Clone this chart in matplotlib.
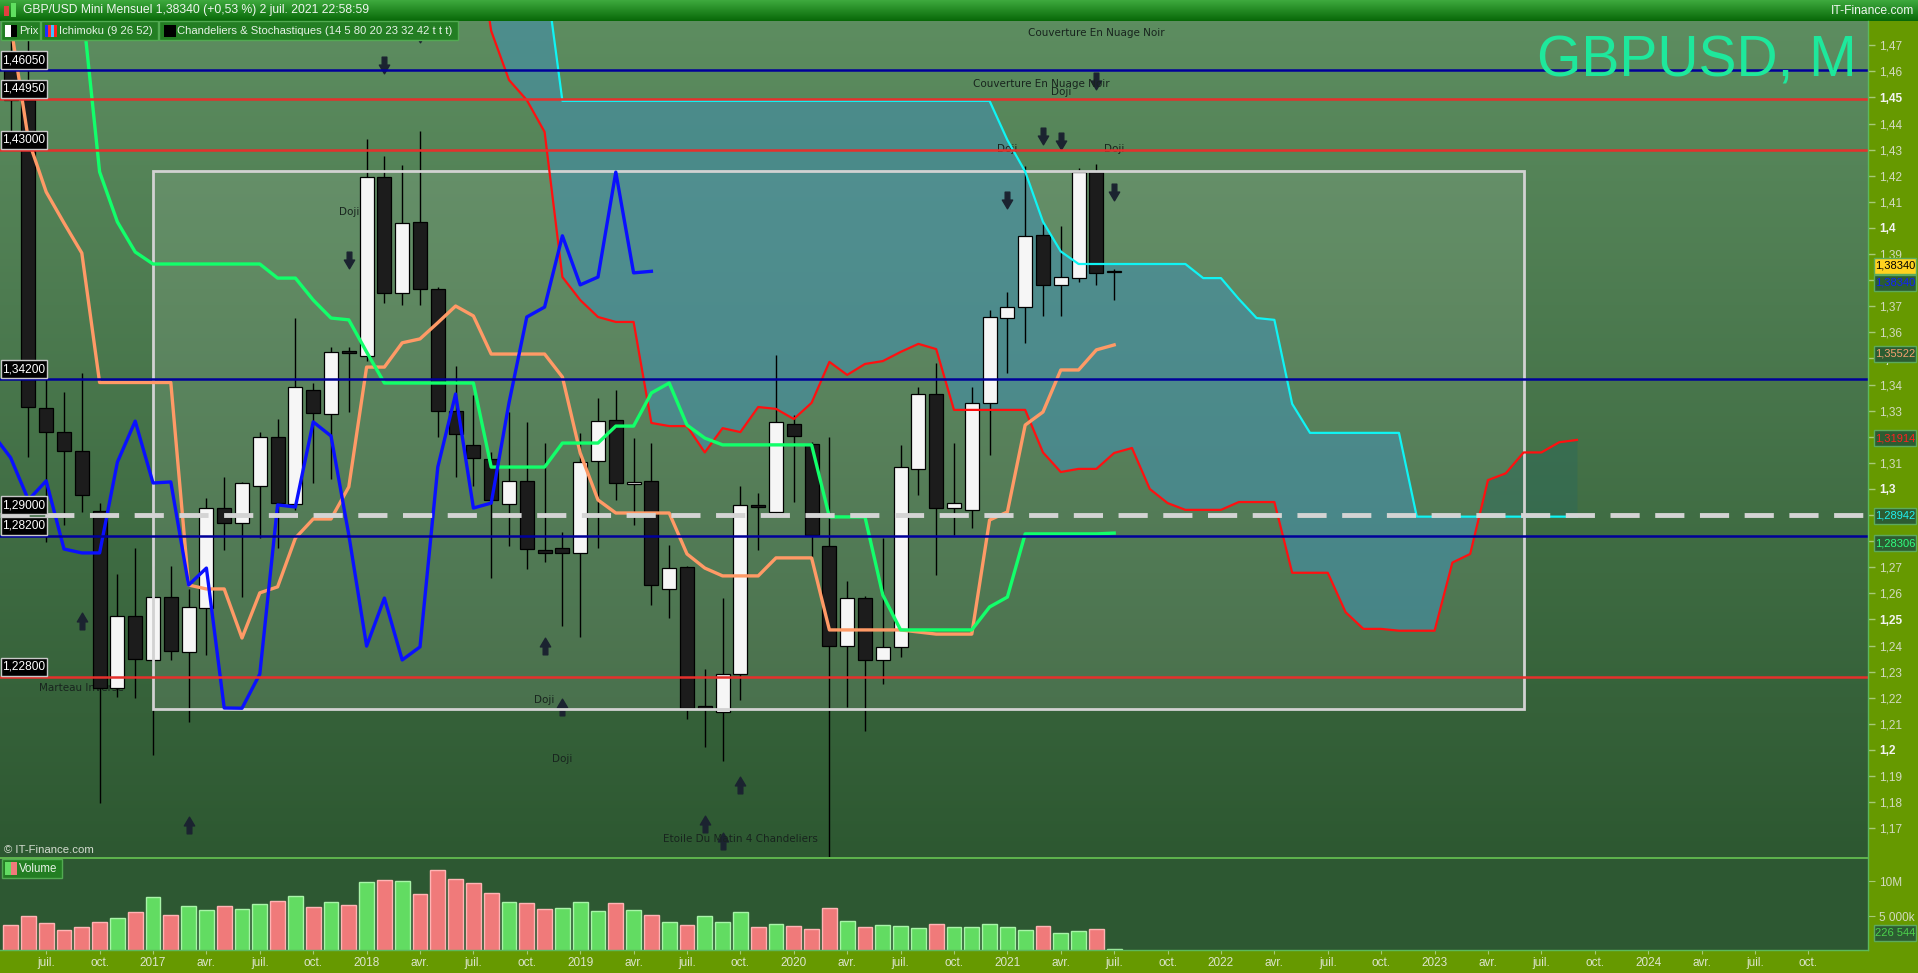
import numpy as np
import matplotlib.pyplot as plt
from matplotlib.patches import Rectangle
from matplotlib.path import Path
from matplotlib.lines import Line2D

plt.rcParams['font.family'] = ['Liberation Sans', 'DejaVu Sans']

# monthly candles, index 0 = mai 2016 ... 62 = juil. 2021
opens = [1.4620, 1.4490, 1.3310, 1.3218, 1.3146, 1.2917, 1.2238, 1.2513, 1.2345, 1.2586,
         1.2375, 1.2544, 1.2927, 1.2870, 1.3011, 1.3199, 1.2943, 1.3380, 1.3287, 1.3528,
         1.3510, 1.4196, 1.3750, 1.4023, 1.3766, 1.3300, 1.3170, 1.3115, 1.2943, 1.3031,
         1.2766, 1.2774, 1.2755, 1.3107, 1.3264, 1.3020, 1.3031, 1.2617, 1.2700, 1.2163,
         1.2146, 1.2291, 1.2939, 1.2912, 1.3250, 1.3172, 1.2782, 1.2398, 1.2582, 1.2345,
         1.2395, 1.3077, 1.3364, 1.2927, 1.2920, 1.3330, 1.3655, 1.3697, 1.3973, 1.3782,
         1.3808, 1.4214, 1.3830]
highs = [1.4770, 1.5018, 1.3482, 1.3372, 1.3444, 1.2946, 1.2674, 1.2774, 1.2706, 1.2705,
         1.2617, 1.2965, 1.3046, 1.3027, 1.3218, 1.3268, 1.3655, 1.3406, 1.3545, 1.3545,
         1.4340, 1.4276, 1.4241, 1.4370, 1.3775, 1.3471, 1.3360, 1.3142, 1.3295, 1.3257,
         1.3176, 1.2835, 1.3215, 1.3349, 1.3379, 1.3195, 1.3176, 1.2785, 1.2705, 1.2310,
         1.2582, 1.3012, 1.2985, 1.3513, 1.3284, 1.3180, 1.3200, 1.2648, 1.2590, 1.2812,
         1.3169, 1.3390, 1.3483, 1.3176, 1.3390, 1.3686, 1.3755, 1.4238, 1.4015, 1.4008,
         1.4230, 1.4245, 1.3843]
lows = [1.4368, 1.3122, 1.2797, 1.2862, 1.2912, 1.1797, 1.2203, 1.2199, 1.1980, 1.2345,
        1.2107, 1.2364, 1.2766, 1.2586, 1.2812, 1.2774, 1.2920, 1.3023, 1.3040, 1.3295,
        1.3490, 1.3712, 1.3705, 1.3705, 1.3199, 1.3046, 1.3010, 1.2660, 1.2782, 1.2693,
        1.2720, 1.2475, 1.2433, 1.2774, 1.2958, 1.2862, 1.2556, 1.2506, 1.2119, 1.2011,
        1.1958, 1.2192, 1.2766, 1.2893, 1.2950, 1.2740, 1.1409, 1.2165, 1.2073, 1.2253,
        1.2356, 1.2977, 1.2670, 1.2824, 1.2850, 1.3130, 1.3444, 1.3560, 1.3663, 1.3663,
        1.3793, 1.3782, 1.3724]
closes = [1.4490, 1.3314, 1.3219, 1.3146, 1.2977, 1.2238, 1.2513, 1.2349, 1.2586, 1.2379,
          1.2548, 1.2927, 1.2870, 1.3023, 1.3199, 1.2946, 1.3390, 1.3290, 1.3525, 1.3520,
          1.4196, 1.3750, 1.4020, 1.3766, 1.3300, 1.3210, 1.3120, 1.2958, 1.3031, 1.2770,
          1.2755, 1.2755, 1.3103, 1.3260, 1.3023, 1.3027, 1.2632, 1.2697, 1.2161, 1.2160,
          1.2291, 1.2939, 1.2931, 1.3257, 1.3203, 1.2824, 1.2398, 1.2582, 1.2345, 1.2395,
          1.3084, 1.3364, 1.2927, 1.2946, 1.3330, 1.3659, 1.3697, 1.3970, 1.3782, 1.3812,
          1.4214, 1.3828, 1.3834]

# volume (millions) and bar colour ('g' up / 'r' down)
volume_m = [3.71, 5.0, 4.0, 3.0, 3.43, 4.14, 4.71, 5.57, 7.71, 5.14,
            6.43, 5.86, 6.43, 6.0, 6.71, 7.14, 7.86, 6.29, 7.0, 6.57,
            9.86, 10.14, 10.0, 8.14, 11.57, 10.29, 9.71, 8.29, 7.0, 6.86,
            6.0, 6.14, 7.0, 5.71, 6.86, 5.86, 5.14, 4.14, 3.71, 5.0,
            4.14, 5.57, 3.43, 3.86, 3.57, 3.14, 6.14, 4.29, 3.43, 3.71,
            3.57, 3.29, 3.86, 3.43, 3.43, 3.86, 3.43, 3.0, 3.57, 2.57,
            2.86, 3.14, 0.226544]
volume_dir = list('rrrrrrgrgrggrggrgrgrgrgrrrrrgrrgggrgrgrgggrgrrrgrgggrgggggrggrg')

# Ichimoku (9 26 52)
tenkan = [1.4780, 1.4337, 1.4138, 1.4019, 1.3904, 1.3408, 1.3408, 1.3408, 1.3408, 1.3408,
          1.2632, 1.2617, 1.2617, 1.2429, 1.2602, 1.2625, 1.2812, 1.2885, 1.2885, 1.3008,
          1.3467, 1.3467, 1.3560, 1.3575, 1.3637, 1.3701, 1.3663, 1.3517, 1.3517, 1.3517,
          1.3517, 1.3429, 1.3138, 1.2958, 1.2908, 1.2908, 1.2908, 1.2908, 1.2751, 1.2697,
          1.2667, 1.2667, 1.2667, 1.2736, 1.2736, 1.2736, 1.2460, 1.2460, 1.2460, 1.2460,
          1.2460, 1.2452, 1.2444, 1.2444, 1.2444, 1.2881, 1.2912, 1.3245, 1.3295, 1.3456,
          1.3456, 1.3533, 1.3552]
kijun = [1.5300, 1.5300, 1.5300, 1.5300, 1.4870, 1.4215, 1.4023, 1.3908, 1.3862, 1.3862,
         1.3862, 1.3862, 1.3862, 1.3862, 1.3862, 1.3808, 1.3808, 1.3724, 1.3655, 1.3648,
         1.3525, 1.3406, 1.3406, 1.3406, 1.3406, 1.3406, 1.3406, 1.3084, 1.3084, 1.3084,
         1.3084, 1.3176, 1.3176, 1.3176, 1.3241, 1.3241, 1.3368, 1.3406, 1.3245, 1.3195,
         1.3169, 1.3169, 1.3169, 1.3169, 1.3169, 1.3169, 1.2893, 1.2893, 1.2893, 1.2594,
         1.2460, 1.2460, 1.2460, 1.2460, 1.2460, 1.2548, 1.2586, 1.2828, 1.2828, 1.2828,
         1.2828, 1.2828, 1.2831]
CHIKOU_SHIFT = 26
# senkou spans, index 26 ... 88 (projected 26 months ahead)
senkou_start = 26
senkou_a = [1.5500, 1.5500, 1.5500, 1.5500, 1.5000, 1.4487, 1.4487, 1.4487, 1.4487, 1.4487,
            1.4487, 1.4487, 1.4487, 1.4487, 1.4487, 1.4487, 1.4487, 1.4487, 1.4487, 1.4487,
            1.4487, 1.4487, 1.4487, 1.4487, 1.4487, 1.4487, 1.4487, 1.4487, 1.4487, 1.4487,
            1.4337, 1.4216, 1.4024, 1.3910, 1.3862, 1.3862, 1.3862, 1.3862, 1.3862, 1.3862,
            1.3862, 1.3808, 1.3808, 1.3728, 1.3655, 1.3648, 1.3326, 1.3215, 1.3215, 1.3215,
            1.3215, 1.3215, 1.3215, 1.2894, 1.2894, 1.2894, 1.2894, 1.2894, 1.2894, 1.2894,
            1.2894, 1.2894, 1.2894]
senkou_b = [1.5200, 1.4755, 1.4567, 1.4490, 1.4368, 1.3812, 1.3724, 1.3659, 1.3640, 1.3640,
            1.3253, 1.3241, 1.3241, 1.3140, 1.3233, 1.3218, 1.3314, 1.3307, 1.3268, 1.3330,
            1.3487, 1.3437, 1.3479, 1.3490, 1.3525, 1.3556, 1.3536, 1.3303, 1.3303, 1.3303,
            1.3303, 1.3303, 1.3140, 1.3065, 1.3077, 1.3077, 1.3138, 1.3157, 1.3000, 1.2946,
            1.2920, 1.2920, 1.2920, 1.2950, 1.2950, 1.2950, 1.2679, 1.2679, 1.2679, 1.2528,
            1.2464, 1.2464, 1.2457, 1.2457, 1.2457, 1.2718, 1.2751, 1.3034, 1.3060, 1.3140,
            1.3140, 1.3179, 1.3188]

# horizontal levels
levels = [1.4605, 1.4495, 1.4300, 1.3420, 1.2900, 1.2820, 1.2280]
level_labels = ['1,46050', '1,44950', '1,43000', '1,34200', '1,29000', '1,28200', '1,22800']
level_kind = ['blue', 'red', 'red', 'blue', 'dash', 'blue', 'red']

# zone rectangle (months, prices)
zone_months = (8, 85)
zone_prices = (1.2157, 1.4220)

# candle pattern marks
down_arrow_m = [19, 21, 23, 56, 58, 59, 61, 62]
down_arrow_p = [1.3877, 1.4623, 1.4745, 1.4107, 1.4354, 1.4335, 1.4565, 1.4136]
up_arrow_m = [4, 10, 30, 31, 39, 40, 41]
up_arrow_p = [1.2496, 1.1711, 1.2400, 1.2163, 1.1715, 1.1650, 1.1864]
pattern_text = ['Couverture En Nuage Noir', 'Couverture En Nuage Noir', 'Doji', 'Doji', 'Doji',
                'Doji', 'Marteau Inversé', 'Doji', 'Doji', 'Etoile Du Matin 4 Chandeliers']
pattern_m = [61.0, 57.9, 59.0, 56.0, 62.0, 19.0, 4.0, 30.0, 31.0, 41.0]
pattern_p = [1.4748, 1.4553, 1.4522, 1.4304, 1.4304, 1.4061, 1.2238, 1.2192, 1.1966, 1.1660]

# value tags on the price scale
tag_values = [1.38340, 1.38340, 1.35522, 1.31914, 1.28942, 1.28306]
tag_texts = ['1,38340', '1,38340', '1,35522', '1,31914', '1,28942', '1,28306']
# price-scale labels hidden behind those tags
hidden_ticks = [1.38, 1.32, 1.29, 1.28]

month_short = {1: None, 4: 'avr.', 7: 'juil.', 10: 'oct.'}

# ---------------------------------------------------------------------
W, H = 1918, 973
fig = plt.figure(figsize=(W / 100, H / 100), dpi=100, facecolor='#669900')


def fy(py):
    return 1 - py / H


ax = fig.add_axes([0, fy(857), 1868 / W, (857 - 21) / H])
axv = fig.add_axes([0, fy(950), 1868 / W, (950 - 859) / H])

x_lim = (-0.596, 104.35)
y_lim = (1.1590, 1.4793)

# background gradient
top_c = np.array([93, 141, 96]) / 255
bot_c = np.array([45, 88, 49]) / 255
t = np.linspace(0, 1, 256)[:, None, None]
grad = top_c * (1 - t) + bot_c * t
ax.imshow(grad, extent=[0, 1, 0, 1], transform=ax.transAxes, aspect='auto', zorder=0)
axv.set_facecolor('#2d5832')

months = np.arange(len(closes))
o = np.array(opens); c = np.array(closes)
h = np.array(highs); l = np.array(lows)

# zone rectangle
ax.add_patch(Rectangle((zone_months[0], zone_prices[0]), zone_months[1] - zone_months[0],
                       zone_prices[1] - zone_prices[0], fc='white', alpha=0.1, ec='none', zorder=1))
ax.add_patch(Rectangle((zone_months[0], zone_prices[0]), zone_months[1] - zone_months[0],
                       zone_prices[1] - zone_prices[0], fc='none', ec='#d2d2d2', lw=2, zorder=5))

# kumo
sx = np.arange(senkou_start, senkou_start + len(senkou_a))
sa = np.array(senkou_a); sb = np.array(senkou_b)
ax.fill_between(sx, sa, sb, where=sa >= sb, interpolate=True, color='#448fa8', alpha=0.62,
                lw=0, zorder=2)
ax.fill_between(sx, sa, sb, where=sa < sb, interpolate=True, color='#2f6a58', alpha=0.55,
                lw=0, zorder=2)

# pattern marks
down_path = Path([(-0.28, 1), (0.28, 1), (0.28, 0.05), (0.62, 0.05), (0, -1),
                  (-0.62, 0.05), (-0.28, 0.05), (-0.28, 1)],
                 [Path.MOVETO] + [Path.LINETO] * 6 + [Path.CLOSEPOLY])
up_path = Path([(x, -y) for x, y in down_path.vertices], down_path.codes)
ax.plot(down_arrow_m, down_arrow_p, ls='', marker=down_path, ms=12, color='#1b2330', zorder=3)
ax.plot(up_arrow_m, up_arrow_p, ls='', marker=up_path, ms=12, color='#1b2330', zorder=3)
for txt, m, p in zip(pattern_text, pattern_m, pattern_p):
    ax.text(m, p, txt, ha='center', va='center', fontsize=7.5, color='#18241e',
            family=['DejaVu Sans'], zorder=3)

# candles
up = c >= o
ax.vlines(months, l, h, color='black', lw=1, zorder=4)
body_lo = np.minimum(o, c)
body_h = np.maximum(np.abs(c - o), 0.0007)
ax.bar(months, body_h, bottom=body_lo, width=0.78,
       color=np.where(up, '#f6f6f6', '#1c1c1c'), edgecolor='black', lw=0.9, zorder=4.5)

# ichimoku lines
ax.plot(sx, sb, color='#ff1010', lw=1.6, zorder=6)
ax.plot(sx, sa, color='#10f4f4', lw=1.6, zorder=6)
ax.plot(months, tenkan, color='#ff9a66', lw=2.4, zorder=6)
ax.plot(months, kijun, color='#12ff6a', lw=2.4, zorder=6)
ck = np.arange(CHIKOU_SHIFT - 1, len(closes))
ax.plot(ck - CHIKOU_SHIFT, c[ck], color='#0a10ff', lw=2.4, zorder=6)

# horizontal levels with left labels
box_h = 18 / 2610
for lv, lab, kind in zip(levels, level_labels, level_kind):
    if kind == 'dash':
        ax.axhline(lv, color='#d4d4d4', lw=3.5, dashes=(6, 3.2), zorder=7)
    else:
        ax.axhline(lv, color='#00009a' if kind == 'blue' else '#e6302c', lw=1.8, zorder=7)
    tr = ax.get_yaxis_transform()
    ax.add_patch(Rectangle((0.0008, lv + 0.0004), 0.0245, box_h, transform=tr, fc='black',
                           ec='#c8c8c8', lw=1, zorder=8, clip_on=False))
    ax.text(0.0128, lv + 0.0004 + box_h / 2, lab, transform=tr, ha='center', va='center',
            fontsize=8.6, color='white', zorder=9)

ax.text(0.002, 1.1615, '© IT-Finance.com', fontsize=8.2, color='#d4dcd0', va='center',
        transform=ax.get_yaxis_transform(), zorder=9)

ax.set_xlim(*x_lim)
ax.set_ylim(*y_lim)
ax.set_xticks([])
ax.yaxis.tick_right()
yt = np.round(np.arange(1.17, 1.4701, 0.01), 2)
ax.set_yticks(yt)
ylabels = ['' if v in hidden_ticks else f'{v:.2f}'.rstrip('0').replace('.', ',') for v in yt]
ax.set_yticklabels(ylabels)
ax.tick_params(axis='y', length=5, width=1, color='#a8c878', pad=3, labelsize=8.5,
               labelcolor='#d2dac0')
for v, tl in zip(yt, ax.get_yticklabels()):
    if round(v * 100) % 5 == 0:
        tl.set_color('#f4f4f4')
        tl.set_fontweight('bold')
for s in ax.spines.values():
    s.set_visible(False)

# volume
vol = np.array(volume_m) * 1e6
vcol = ['#62dc62' if d == 'g' else '#f07a7a' for d in volume_dir]
vedge = ['#a8f4a8' if d == 'g' else '#ffb4b4' for d in volume_dir]
axv.bar(months, vol, width=0.84, color=vcol, edgecolor=vedge, lw=1, zorder=3)
axv.set_xlim(*x_lim)
axv.set_ylim(0.15e6, 13.15e6)
axv.yaxis.tick_right()
axv.set_yticks([5e6, 10e6])
axv.set_yticklabels(['5 000k', '10M'])
axv.tick_params(axis='y', length=5, color='#a8c878', pad=3, labelsize=8.5, labelcolor='#d2dac0')
xt = []
xl = []
for i in range(0, 102):
    mon = (4 + i) % 12 + 1
    if mon in month_short:
        xt.append(i)
        xl.append(month_short[mon] if month_short[mon] else str(2016 + (4 + i) // 12))
axv.set_xticks(xt)
axv.set_xticklabels(xl)
axv.tick_params(axis='x', length=3, color='#a8c878', pad=2, labelsize=8.5, labelcolor='#dce4cc')
for s in axv.spines.values():
    s.set_visible(False)

# separators
fig.add_artist(Line2D([0, 1868 / W], [fy(858), fy(858)], color='#5cb85c', lw=1.2))
fig.add_artist(Line2D([1868 / W, 1868 / W], [fy(950), fy(21)], color='#5cb85c', lw=1))
fig.add_artist(Line2D([0, 1868 / W], [fy(950), fy(950)], color='#5cb85c', lw=1))

# title bar
axt = fig.add_axes([0, fy(21), 1, 21 / H])
tc1 = np.array([62, 170, 62]) / 255
tc2 = np.array([8, 104, 8]) / 255
tt = np.linspace(0, 1, 64)[:, None, None]
axt.imshow(tc1 * (1 - tt) + tc2 * tt, extent=[0, 1, 0, 1], aspect='auto')
axt.set_axis_off()
axt.add_patch(Rectangle((4 / W, 0.25), 5 / W, 0.45, fc='#e04040', ec='none'))
axt.add_patch(Rectangle((11 / W, 0.2), 5 / W, 0.65, fc='#60e060', ec='none'))
axt.text(23 / W, 0.5, 'GBP/USD Mini Mensuel 1,38340 (+0,53 %) 2 juil. 2021 22:58:59',
         fontsize=8.7, color='#eef6ee', va='center')
axt.text(1914 / W, 0.5, 'IT-Finance.com', fontsize=8.7, color='#eef6ee', va='center', ha='right')

# legend boxes
legend_boxes = [(1, 40, 'Prix'), (41, 158, 'Ichimoku (9 26 52)'),
                (159, 458, 'Chandeliers & Stochastiques (14 5 80 20 23 32 42 t t t)')]
for x0, x1, txt in legend_boxes:
    fig.add_artist(Rectangle((x0 / W, fy(40)), (x1 - x0) / W, 19 / H, fc='#237e23',
                             ec='#52aa52', lw=1, transform=fig.transFigure))
    fig.text((x0 + 18) / W, fy(30.5), txt, fontsize=8.1, color='#e6f2e6', va='center')
fig.add_artist(Rectangle((5 / W, fy(37)), 6 / W, 12 / H, fc='white', ec='none',
                         transform=fig.transFigure))
fig.add_artist(Rectangle((11 / W, fy(37)), 6 / W, 12 / H, fc='black', ec='none',
                         transform=fig.transFigure))
for k, col in enumerate(['#2030ff', '#ff3030', '#40c0ff', '#ff2020']):
    fig.add_artist(Rectangle(((45 + 3 * k) / W, fy(37)), 3 / W, 12 / H, fc=col, ec='none',
                             transform=fig.transFigure))
fig.add_artist(Rectangle((164 / W, fy(37)), 12 / W, 12 / H, fc='black', ec='none',
                         transform=fig.transFigure))

fig.add_artist(Rectangle((2 / W, fy(878)), 60 / W, 19 / H, fc='#237e23', ec='#52aa52', lw=1,
                         transform=fig.transFigure))
fig.add_artist(Rectangle((5 / W, fy(875)), 6 / W, 13 / H, fc='#62dc62', ec='none',
                         transform=fig.transFigure))
fig.add_artist(Rectangle((11 / W, fy(875)), 6 / W, 13 / H, fc='#f07a7a', ec='none',
                         transform=fig.transFigure))
fig.text(19 / W, fy(868.5), 'Volume', fontsize=8.3, color='#e6f2e6', va='center')

fig.text(1857 / W, fy(62), 'GBPUSD, M', fontsize=41, color='#1ee89c', ha='right', va='center')

# price tags
fig.canvas.draw()
tag_style = [('#ffd21f', 'black', -5.5), ('#2c5c32', '#1020ff', 11.5), ('#2c5c32', '#f4a070', 9),
             ('#2c5c32', '#ff2020', -1), ('#2c5c32', '#20f0f0', -1), ('#2c5c32', '#30ff80', 10)]
for v, txt, (bg, fg, off) in zip(tag_values, tag_texts, tag_style):
    py = H - ax.transData.transform((0, v))[1] + off
    fig.add_artist(Rectangle((1874 / W, fy(py + 8)), 42 / W, 16 / H, fc=bg, ec='#5caa5c', lw=1,
                             transform=fig.transFigure))
    fig.text(1895 / W, fy(py), txt, fontsize=8, color=fg, ha='center', va='center')
py = 933
fig.add_artist(Rectangle((1874 / W, fy(py + 8)), 42 / W, 16 / H, fc='#2c5c32', ec='#5caa5c', lw=1,
                         transform=fig.transFigure))
fig.text(1895 / W, fy(py), '226 544', fontsize=8, color='#4cd24c', ha='center', va='center')

fig.savefig('out.png', dpi=100, facecolor=fig.get_facecolor())
